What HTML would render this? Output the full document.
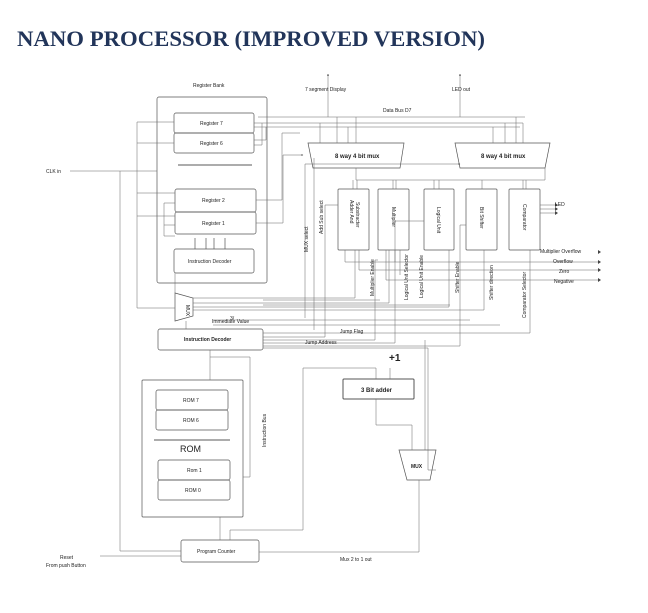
<!DOCTYPE html>
<html><head><meta charset="utf-8"><style>
body{margin:0;background:#fff;width:648px;height:613px;overflow:hidden}
svg{display:block}
text{font-family:"Liberation Sans",sans-serif;fill:#222}
.s{font-size:5px}
.b{font-weight:bold}
</style></head><body>
<svg width="648" height="613" viewBox="0 0 648 613" xmlns="http://www.w3.org/2000/svg">
<defs><marker id="a" markerWidth="4" markerHeight="4" refX="3.5" refY="2" orient="auto"><path d="M0,0L4,2L0,4z" fill="#444"/></marker></defs>
<text x="17" y="46" font-size="22" font-weight="bold" style="fill:#22355a;font-family:'Liberation Serif',serif" textLength="468" lengthAdjust="spacingAndGlyphs">NANO PROCESSOR (IMPROVED VERSION)</text>

<g fill="none" stroke="#555" stroke-width="0.7">
<rect x="157" y="97" width="110" height="186" rx="2"/>
<rect x="174" y="113" width="80" height="20" rx="2"/>
<rect x="174" y="133" width="80" height="20" rx="2"/>
<line x1="178" y1="165" x2="252" y2="165" stroke="#222"/>
<rect x="175" y="189" width="81" height="23" rx="2"/>
<rect x="175" y="212" width="81" height="22" rx="2"/>
<rect x="174" y="249" width="80" height="24" rx="2"/>
<path d="M195 249V238M206 249V238M214 249V238M225 249V238"/>
<path d="M175 293L193 298V316L175 321Z"/>
<rect x="158" y="329" width="105" height="21" rx="2"/>
<path d="M308 143H404L400 168H313Z"/>
<path d="M455 143H550L545 168H460Z"/>
<rect x="338" y="189" width="31" height="61" rx="1"/>
<rect x="378" y="189" width="31" height="61" rx="1"/>
<rect x="424" y="189" width="30" height="61" rx="1"/>
<rect x="466" y="189" width="31" height="61" rx="1"/>
<rect x="509" y="189" width="31" height="61" rx="1"/>
<rect x="343" y="379" width="71" height="20" rx="1" stroke-width="1"/>
<path d="M399 450H436L430 480H407Z"/>
<rect x="142" y="380" width="101" height="137" rx="1"/>
<rect x="156" y="390" width="72" height="20" rx="2"/>
<rect x="156" y="410" width="72" height="20" rx="2"/>
<line x1="154" y1="440" x2="230" y2="440" stroke="#222"/>
<rect x="158" y="460" width="72" height="20" rx="2"/>
<rect x="158" y="480" width="72" height="20" rx="2"/>
<rect x="181" y="540" width="78" height="22" rx="2"/>
</g>

<g fill="none" stroke="#666" stroke-width="0.5">
<line x1="328" y1="117" x2="328" y2="74" marker-end="url(#a)"/>
<line x1="460" y1="117" x2="460" y2="74" marker-end="url(#a)"/>
<path d="M258 117H525"/>
<path d="M254 123H523V143M254 127H520"/>
<path d="M337 117V143M356 117V143M516 117V143"/>
<path d="M320 123V143M348 127V143M493 127V143M505 123V143"/>
<path d="M262 123V145H254M266 127V140H254"/>
<path d="M256 200H282V133H300"/>
<path d="M256 223H283V155H303" marker-end="url(#a)"/>
<path d="M314 158V330" />
<path d="M305 164H460" marker-end="url(#a)"/>
<path d="M305 164V318"/>
<path d="M356 168V180H545M545 168V180"/>
<path d="M353 180V189M357 180V189M393 180V189M396 180V189M434 180V189M439 180V189M482 180V189M523 180V189M526 180V189"/>
<path d="M137 122H174M137 143H174M137 193H175M137 216H175M137 122V308H175"/>
<path d="M164 203H175M164 203V236H175M164 225H175"/>
<path d="M70 171H157"/>
<path d="M120 171V551H181"/>
<path d="M540 205H555M540 209H555M540 213H555"/>
<path d="M345 250V262H600M359 250V270H600M386 250V280H600M400 250V275"/>
<path d="M395 250V262M449 250V307H193"/>
<path d="M484 250V310H193M355 250V298H193M389 250V303H193"/>
<path d="M263 300H380M263 305H450"/>
<path d="M213 320H470M213 325H500M263 333H530V250"/>
<path d="M263 337H325V205H338M263 340H375V260H378M263 343H395V221H424M263 346H460V225H466"/>
<path d="M263 348H428V470H436"/>
<path d="M175 293V273"/>
<path d="M186 321V329M210 350V380" />
<path d="M210 357H250V477H243"/>
<path d="M220 540V517"/>
<path d="M230 540V530H303V368H376V379"/>
<path d="M390 368V379"/>
<path d="M376 399V425H412V450"/>
<path d="M425 340V450"/>
<path d="M419 480V552H259"/>
<path d="M100 556H181"/>
</g>
<g fill="#444">
<path d="M555 203l3 2-3 2zM555 207l3 2-3 2zM555 211l3 2-3 2z"/>
<path d="M598 260l3 2-3 2zM598 268l3 2-3 2zM598 278l3 2-3 2zM598 250l3 2-3 2z"/>
</g>

<text class="s" x="193" y="87">Register Bank</text>
<text class="s" x="200" y="125">Register 7</text>
<text class="s" x="200" y="145">Register 6</text>
<text class="s" x="202" y="202">Register 2</text>
<text class="s" x="202" y="225">Register 1</text>
<text class="s" x="188" y="263">Instruction Decoder</text>
<text class="s" x="186" y="305" transform="rotate(90 186 305)">MUX</text>
<text class="s b" x="184" y="341">Instruction Decoder</text>
<text class="s" x="305" y="91">7 segment Display</text>
<text class="s" x="452" y="91">LED out</text>
<text class="s" x="383" y="112">Data Bus D7</text>
<text class="s b" x="335" y="158" style="font-size:6px">8 way 4 bit mux</text>
<text class="s b" x="481" y="158" style="font-size:6px">8 way 4 bit mux</text>
<text class="s" x="350" y="200" transform="rotate(90 350 200)">Adder And</text>
<text class="s" x="356" y="202" transform="rotate(90 356 202)">Substracter</text>
<text class="s" x="392" y="207" transform="rotate(90 392 207)">Multiplier</text>
<text class="s" x="437" y="207" transform="rotate(90 437 207)">Logical Unit</text>
<text class="s" x="480" y="207" transform="rotate(90 480 207)">Bit Shifter</text>
<text class="s" x="523" y="204" transform="rotate(90 523 204)">Comparator</text>
<text class="s" x="555" y="206">LED</text>
<text class="s" x="540" y="253">Multiplier Overflow</text>
<text class="s" x="553" y="263">Overflow</text>
<text class="s" x="559" y="273">Zero</text>
<text class="s" x="554" y="283">Negative</text>
<text class="s" x="308" y="252" transform="rotate(-90 308 252)">MUX select</text>
<text class="s" x="323" y="234" transform="rotate(-90 323 234)">Add Sub select</text>
<text class="s" x="374" y="296" transform="rotate(-90 374 296)">Multiplier Enable</text>
<text class="s" x="408" y="300" transform="rotate(-90 408 300)">Logical Unit Selector</text>
<text class="s" x="423" y="298" transform="rotate(-90 423 298)">Logical Unit Enable</text>
<text class="s" x="459" y="293" transform="rotate(-90 459 293)">Shifter Enable</text>
<text class="s" x="493" y="300" transform="rotate(-90 493 300)">Shifter direction</text>
<text class="s" x="526" y="318" transform="rotate(-90 526 318)">Comparator Selector</text>
<text class="s" x="230" y="320">3/</text>
<text class="s" x="212" y="323">Immediate Value</text>
<text class="s" x="340" y="333">Jump Flag</text>
<text class="s" x="305" y="344">Jump Address</text>
<text class="b" x="389" y="361" style="font-size:10px">+1</text>
<text class="s b" x="361" y="392" style="font-size:6px">3 Bit adder</text>
<text class="s b" x="411" y="468">MUX</text>
<text class="s" x="183" y="402">ROM 7</text>
<text class="s" x="183" y="422">ROM 6</text>
<text x="180" y="452" style="font-size:9px">ROM</text>
<text class="s" x="187" y="472">Rom 1</text>
<text class="s" x="185" y="492">ROM 0</text>
<text class="s" x="266" y="447" transform="rotate(-90 266 447)">Instruction Bus</text>
<text class="s" x="197" y="553">Program Counter</text>
<text class="s" x="60" y="559">Reset</text>
<text class="s" x="46" y="567">From push Button</text>
<text class="s" x="340" y="561">Mux 2 to 1 out</text>
<text class="s" x="46" y="173">CLK in</text>
</svg>
</body></html>
